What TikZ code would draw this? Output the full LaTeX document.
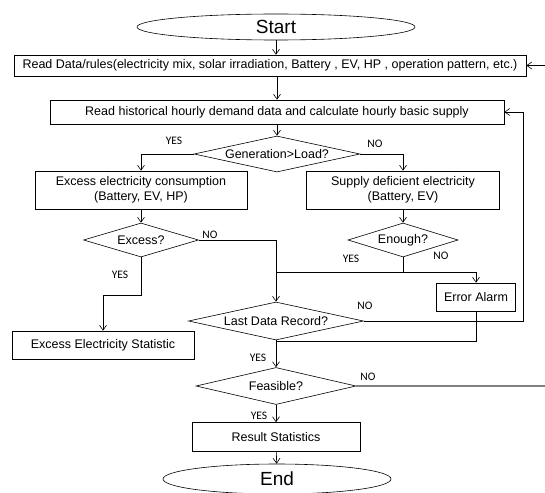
\documentclass[tikz,border=0pt]{standalone}
\usepackage{fontspec}
\setmainfont{Liberation Sans}
\newfontfamily\lblfont{Carlito}
\usetikzlibrary{shapes.geometric,arrows.meta}

\begin{document}
\begin{tikzpicture}[x=1pt,y=-1pt,line width=0.6pt,>={Straight Barb[length=5pt,width=7pt]},
  box/.style={draw,rectangle,inner sep=0pt,align=center,font=\fontsize{12.5}{15}\selectfont},
  decision/.style={draw,diamond,inner sep=0pt,font=\fontsize{12.5}{15}\selectfont},
  terminal/.style={draw,ellipse,inner sep=0pt,font=\fontsize{19}{22}\selectfont},
  lbl/.style={inner sep=0pt,font=\lblfont\fontsize{11.5}{13}\selectfont}]
\useasboundingbox (0,0) rectangle (545,492);
\clip (0,0) rectangle (545,492);
\node[terminal,minimum width=278pt,minimum height=26pt] (start) at (276,27) {Start};
\node[box,minimum width=512pt,minimum height=21pt] (read) at (270,65.5) {Read Data/rules(electricity mix, solar irradiation, Battery , EV, HP , operation pattern, etc.)};
\node[box,minimum width=454pt,minimum height=24pt] (hist) at (277,112) {Read historical hourly demand data and calculate hourly basic supply};
\node[decision,minimum width=166pt,minimum height=36pt,aspect=4.6] (gen) at (277,154) {Generation>Load?};
\node[box,minimum width=212pt,minimum height=38pt] (excess) at (141,190) {Excess electricity consumption\\(Battery, EV, HP)};
\node[box,minimum width=193pt,minimum height=38pt] (supply) at (403,190) {Supply deficient electricity\\(Battery, EV)};
\node[decision,minimum width=115pt,minimum height=34pt,aspect=3.4] (exq) at (141,240) {Excess?};
\node[decision,minimum width=110pt,minimum height=34pt,aspect=3.4] (enough) at (403,240) {Enough?};
\node[box,minimum width=79pt,minimum height=28pt] (alarm) at (476,297) {Error Alarm};
\node[decision,minimum width=175pt,minimum height=38pt,aspect=4.6] (last) at (276,321) {Last Data Record?};
\node[box,minimum width=182pt,minimum height=28pt] (exstat) at (103,345) {Excess Electricity Statistic};
\node[decision,minimum width=160pt,minimum height=37pt,aspect=4.3] (feas) at (276,386) {Feasible?};
\node[box,minimum width=168pt,minimum height=29pt] (result) at (276,437) {Result Statistics};
\node[terminal,minimum width=228pt,minimum height=30pt] (end) at (277,479) {End};
\coordinate (back) at (523,112);
\coordinate (rim) at (545,0);
\draw[->] (start) -- (start |- read.north);
\draw[->] (hist.north |- read.south) -- (hist.north);
\draw[->] (hist) -- (gen);
\draw[->] (gen.west) -| (excess.north);
\draw[->] (gen.east) -| (supply.north);
\draw[->] (excess) -- (exq);
\draw[->] (supply) -- (enough);
\draw[->] (exq.east) -| (last.north);
\draw (enough.south) -- ++(0,15) coordinate (split);
\draw (split) -- (split -| last.north);
\draw[->] (split) -| (alarm.north);
\draw[->] (exq.south) -- ++(0,38) -| (exstat.north);
\draw[->] (last.east) -| (back) -- (hist.east);
\draw (alarm.south) -- ++(0,30) coordinate (merge) -- (merge -| last.south);
\draw[->] (last) -- (feas);
\draw[gray,line width=1.2pt] (feas.east) -- (feas.east -| rim);
\draw[<-] (read.east) -- (read.east -| rim);
\draw[->] (feas) -- (result);
\draw[->] (result) -- (end);
\node[lbl] (yes1) at (174,141) {YES};
\node[lbl] (no1) at (375,144) {NO};
\node[lbl] (no2) at (210,235) {NO};
\node[lbl] (yes2) at (120,275) {YES};
\node[lbl] (yes3) at (351,259) {YES};
\node[lbl] (no3) at (441,256) {NO};
\node[lbl] (no4) at (365,306) {NO};
\node[lbl] (yes4) at (258,358) {YES};
\node[lbl] (no5) at (368,377) {NO};
\node[lbl] (yes5) at (259,416) {YES};
\end{tikzpicture}
\end{document}
